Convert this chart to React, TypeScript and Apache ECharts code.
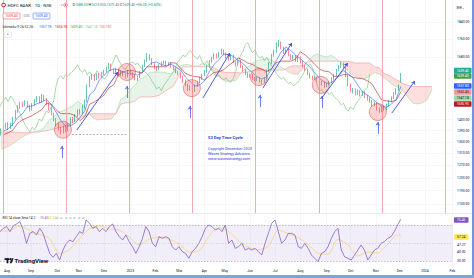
import React, { useEffect, useRef } from "react";
import * as echarts from "echarts";

// ---------------- DATA ----------------
// x unit = trading-bar index (0 = 1 Aug 2022)
const MONTH_BARS = [0, 20, 42, 60, 81, 103, 124, 144, 165, 182, 203, 224, 245, 267, 287, 308, 328, 349, 372];
const MONTH_LABELS = ["Aug", "Sep", "Oct", "Nov", "Dec", "2023", "Feb", "Mar", "Apr", "May", "Jun", "Jul", "Aug", "Sep", "Oct", "Nov", "Dec", "2024", "Feb"];

const PRICE_TICKS = [1840, 1760, 1680, 1430, 1390, 1350, 1310, 1270, 1230, 1190, 1150];
const PRICE_RANGE = [1123.3, 1947.7];
const RSI_TICKS = [47.27, 40, 30];
const RSI_RANGE = [25.6, 82.2];

const CANDLE_START_BAR = -5;
const CANDLE_STEP = 2;
// [open, close, low, high]
const CANDLES = [
  [1380,1392,1372,1398],[1392,1402,1386,1408],[1402,1412,1396,1418],
  [1412,1400,1392,1420],[1400,1410,1396,1418],[1410,1435,1406,1440],[1435,1462,1430,1466],[1462,1478,1455,1484],
  [1478,1490,1470,1497],[1490,1484,1476,1498],[1484,1496,1480,1503],[1496,1480,1474,1500],[1480,1468,1460,1486],
  [1468,1488,1464,1492],[1488,1502,1482,1508],[1502,1515,1496,1520],[1515,1498,1492,1519],[1498,1520,1494,1528],
  [1520,1508,1500,1524],[1508,1490,1484,1512],[1490,1470,1464,1494],[1470,1452,1446,1476],[1452,1430,1424,1456],
  [1430,1412,1405,1436],[1412,1398,1390,1418],[1398,1385,1376,1404],[1385,1402,1380,1408],[1402,1392,1384,1410],
  [1392,1410,1388,1416],[1410,1432,1406,1438],[1432,1424,1416,1440],[1424,1445,1420,1450],[1445,1462,1440,1468],
  [1462,1455,1448,1470],[1455,1478,1450,1484],[1478,1500,1472,1506],[1500,1560,1496,1566],[1560,1592,1555,1600],
  [1592,1602,1585,1610],[1602,1588,1580,1608],[1588,1606,1584,1612],[1606,1598,1590,1612],[1598,1612,1594,1618],
  [1612,1620,1605,1626],[1620,1632,1615,1640],[1632,1648,1628,1655],[1648,1625,1620,1652],[1625,1615,1608,1630],
  [1615,1628,1610,1634],[1628,1604,1598,1632],[1604,1618,1600,1624],[1618,1605,1598,1622],[1605,1598,1590,1610],
  [1598,1622,1594,1626],[1622,1610,1604,1628],[1610,1600,1594,1616],[1600,1588,1582,1604],[1588,1596,1580,1600],
  [1596,1618,1592,1622],[1618,1642,1614,1648],[1642,1665,1638,1670],[1665,1690,1660,1698],[1690,1672,1666,1694],
  [1672,1650,1645,1676],[1650,1635,1628,1654],[1635,1628,1620,1640],[1628,1645,1624,1650],[1645,1655,1640,1660],
  [1655,1660,1648,1666],[1660,1648,1642,1664],[1648,1655,1644,1660],[1655,1640,1635,1660],[1640,1630,1624,1645],
  [1630,1618,1612,1634],[1618,1610,1604,1622],[1610,1598,1590,1615],[1598,1580,1572,1602],[1580,1565,1558,1586],
  [1565,1548,1540,1570],[1548,1556,1542,1562],[1556,1540,1532,1560],[1540,1562,1536,1566],[1562,1575,1556,1580],
  [1575,1590,1570,1596],[1590,1605,1585,1610],[1605,1618,1600,1624],[1618,1640,1614,1646],[1640,1662,1636,1668],
  [1662,1675,1656,1682],[1675,1690,1670,1698],[1690,1682,1674,1696],[1682,1698,1678,1704],[1698,1710,1692,1718],
  [1710,1695,1688,1714],[1695,1680,1674,1700],[1680,1672,1665,1686],[1672,1688,1668,1694],[1688,1660,1655,1690],
  [1660,1648,1640,1664],[1648,1665,1644,1670],[1665,1640,1634,1668],[1640,1625,1618,1645],[1625,1610,1604,1630],
  [1610,1598,1592,1615],[1598,1605,1594,1610],[1605,1590,1584,1608],[1590,1585,1578,1596],[1585,1592,1580,1598],
  [1592,1580,1574,1596],[1580,1575,1568,1585],[1575,1590,1572,1594],[1590,1620,1586,1626],[1620,1655,1616,1660],
  [1655,1688,1650,1694],[1688,1705,1682,1712],[1705,1735,1700,1745],[1735,1745,1725,1757],[1745,1720,1714,1750],
  [1720,1700,1694,1726],[1700,1712,1696,1718],[1712,1690,1684,1716],[1690,1675,1668,1694],[1675,1685,1670,1690],
  [1685,1665,1660,1690],[1665,1680,1660,1686],[1680,1660,1654,1684],[1660,1642,1636,1664],[1642,1628,1622,1646],
  [1628,1610,1604,1632],[1610,1598,1592,1615],[1598,1588,1582,1602],[1588,1595,1584,1600],[1595,1580,1574,1598],
  [1580,1570,1564,1584],[1570,1575,1562,1580],[1575,1560,1552,1578],[1560,1568,1555,1572],[1568,1575,1562,1580],
  [1575,1590,1570,1595],[1590,1605,1585,1610],[1605,1625,1600,1630],[1625,1640,1620,1646],[1640,1652,1634,1660],
  [1652,1635,1630,1656],[1635,1600,1595,1638],[1600,1565,1558,1604],[1565,1540,1534,1570],[1540,1545,1530,1552],
  [1545,1528,1522,1550],[1528,1540,1524,1546],[1540,1525,1518,1544],[1525,1535,1520,1540],[1535,1518,1512,1538],
  [1518,1510,1502,1524],[1510,1500,1494,1515],[1500,1485,1478,1504],[1485,1492,1480,1498],[1492,1470,1464,1496],
  [1470,1462,1455,1476],[1462,1478,1458,1482],[1478,1468,1462,1484],[1468,1485,1464,1490],[1485,1500,1480,1505],
  [1500,1512,1496,1518],[1512,1530,1508,1535],[1530,1545,1525,1550],[1545,1553.4,1540,1565],[1588,1609.4,1573.45,1613],
];

const ICHI_START_BAR = -3;
const ICHI_STEP = 4;
const CONVERSION = [1388,
  1396,1413,1438,1452,1479,1481,1490,1496,1506,1487,
  1458,1426,1406,1407,1417,1438,1463,1524,1541,1583,
  1603,1622,1630,1626,1616,1611,1609,1604,1614,1639,
  1656,1659,1648,1643,1650,1638,1625,1596,1577,1559,
  1564,1580,1619,1649,1670,1694,1691,1684,1667,1654,
  1631,1614,1597,1588,1597,1631,1666,1704,1725,1709,
  1689,1674,1656,1638,1614,1590,1576,1568,1581,1601,
  1623,1609,1593,1563,1535,1524,1509,1494,1480,1476,
  1488,1507,1557.8];
const BASE_LINE = [1375,
  1382,1392,1417,1429,1437,1445,1456,1467,1492,1487,
  1467,1452,1452,1452,1444,1426,1441,1488,1497,1509,
  1523,1552,1564,1605,1618,1623,1623,1617,1614,1639,
  1639,1639,1639,1639,1656,1655,1633,1612,1603,1598,
  1596,1583,1600,1615,1618,1627,1644,1659,1677,1668,
  1655,1649,1636,1629,1619,1631,1657,1663,1663,1663,
  1672,1704,1690,1671,1650,1629,1621,1618,1599,1599,
  1606,1606,1595,1591,1589,1581,1567,1534,1504,1501,
  1498,1503,1536.95];

const SPAN_START_BAR = -5;
const SPAN_STEP = 4;
const SPAN_A = [1325,1330,1338,1350,1362,1372,1380,1386,
  1389,1402,1427,1440,1458,1463,1473,1482,1499,1487,
  1463,1439,1429,1430,1431,1432,1452,1506,1519,1546,
  1563,1587,1597,1616,1617,1617,1616,1610,1614,1639,
  1647,1649,1643,1641,1653,1646,1629,1604,1590,1578,
  1580,1581,1610,1632,1644,1661,1668,1672,1672,1661,
  1643,1632,1617,1609,1608,1631,1662,1684,1694,1686,
  1681,1689,1673,1655,1632,1610,1599,1593,1590,1600,
  1615,1608,1594,1577,1562,1553,1538,1514,1492,1489,
  1493,1505,1547];
const SPAN_B = [1385,1385,1385,1385,1383,1382,1383,1384,
  1385,1388,1392,1396,1400,1404,1410,1420,1430,1440,
  1448,1452,1452,1452,1452,1452,1452,1488,1493,1494,
  1501,1516,1516,1516,1518,1522,1536,1548,1559,1597,
  1639,1639,1639,1639,1639,1639,1639,1628,1619,1615,
  1615,1615,1613,1615,1618,1625,1625,1625,1625,1625,
  1625,1625,1637,1643,1643,1643,1657,1663,1663,1663,
  1663,1663,1663,1663,1663,1660,1655,1655,1655,1655,
  1639,1634,1610,1604,1591,1581,1569,1562,1558,1558,
  1558,1558,1557.8];
const LAG_SHIFT = 26;

const RSI_START_BAR = -5.84;
const RSI_STEP = 2.7673;
const RSI = [62.6,66.3,68.2,62.6,68.9,71.1,73.7,64.4,49.6,60.7,
  62.6,58.9,66.3,60.7,49.6,38.5,34.1,38.5,31.1,42.2,
  49.6,53.3,51.5,57,62.6,60.7,75.6,71.9,66.3,68.2,
  62.6,66.3,62.6,68.2,71.1,62.6,57,53.3,58.9,51.5,
  45.9,38.5,45.9,55.2,68.2,62.6,49.6,45.9,57,55.2,
  57,55.2,45.9,42.2,45.9,40.4,38.5,33,40.4,44,
  49.6,57,66.3,70,68.2,64.4,66.3,62.6,70,
  49.6,53.3,44.1,45.9,49.6,42.2,44.1,42.2,44.1,40.4,
  36.7,49.6,60.7,71.9,75.6,62.6,49.6,53.3,60.7,60.7,
  58.9,45.9,44.1,49.6,44.1,36.7,33,29.3,38.5,40.4,
  45.9,55.2,62.6,66.3,42.2,34.8,33,31.1,36.7,42.2,
  47.8,42.2,31.1,36.7,42.2,44.1,49.6,51.5,55.2,57,
  62.6,70,76.46];
// RSI-based MA sampled every 3 RSI readings (last one at the last reading)
const RSI_MA_EVERY = 3;
const RSI_MA = [63,64,68.9,63.9,59.6,54.8,38.4,42.9,54.8,65.6,
  68.9,65.6,64.3,56.7,48.1,54.1,56.7,54.1,49.2,40,
  41.1,57.4,67,62.6,52.6,45.2,42.6,46.3,64.1,60.4,
  55.9,48.5,38.5,37.4,54.1,47.8,35.6,40,39.3,48.5,
  59.3,57.24];

// 53-day cycle marker bars
const CYCLE_BARS = [-3.5, 49.3, 102.1, 154.9, 207.7, 260.5, 313.3, 366.1];
// cycle-low circles [bar, price]
const CIRCLES = [[46.7, 1393], [100.2, 1617], [154.4, 1551], [210.4, 1596], [262.1, 1564], [309.7, 1458]];
// up arrows [bar, tailPrice, headPrice]
const UP_ARROWS = [[45.9, 1295, 1336], [100.2, 1512, 1560], [152.8, 1436, 1481], [211.2, 1477, 1524], [262.9, 1473, 1520], [309.7, 1378, 1421]];
// trend arrows [bar1, price1, bar2, price2]
const TREND_ARROWS = [[58.4, 1392, 92.7, 1617], [163.6, 1512, 186.1, 1698], [213.7, 1551, 237.9, 1743], [262.9, 1512, 284.6, 1655], [321.4, 1454, 340.6, 1580]];
const SUPPORT_LINE = [54.3, 101, 1377.6];

const LAST = { o: "1588.00", h: "1613.00", l: "1573.45", c: "1609.40", chg: "+56.00 (+3.60%)" };
const ICHI_LEGEND = ["1557.78", "1536.95", "1609.40", "1547.18", "1557.80"];
const PRICE_BADGES = [
  { text: "1609.40", bg: "#22ab94", fg: "#ffffff" },
  { text: "1609.40", bg: "#43a047", fg: "#ffffff" },
  { text: "1557.80", bg: "#2962ff", fg: "#ffffff" },
  { text: "1552.45", bg: "#ef9a9a", fg: "#131722" },
  { text: "1547.18", bg: "#a5d6a7", fg: "#131722" },
  { text: "1536.95", bg: "#b71c1c", fg: "#ffffff" },
];
const RSI_BADGES = [
  { text: "76.46", bg: "#7e57c2", fg: "#ffffff" },
  { text: "57.24", bg: "#fbe45b", fg: "#131722" },
];

// ---------------- LAYOUT / STYLE ----------------
const W = 474;
const H = 278;
const PLOT_W = 453;
const MAIN_H = 213;
const RSI_TOP = 214;
const RSI_H = 51;
const PX_PER_BAR = 1.1973;
const X0_PX = 7;
const X_MIN = -X0_PX / PX_PER_BAR;
const X_MAX = X_MIN + PLOT_W / PX_PER_BAR;
const PRICE_BADGE_Y = [70.5, 76, 86, 92, 98, 104];
const RSI_BADGE_Y = [220, 237];
const FONT = 'Roboto, "Liberation Sans", Arial, sans-serif';
const TXT = "#131722";
const UP = "#089981";
const DOWN = "#f23645";
const CLOUD_GREEN = "rgba(67,160,71,0.12)";
const CLOUD_RED = "rgba(244,67,54,0.17)";

const L = Math.log;

function buildOption() {
  const candleData = CANDLES.map((c, i) => [CANDLE_START_BAR + i * CANDLE_STEP, L(c[0]), L(c[1]), L(c[2]), L(c[3])]);
  const lagData = CANDLES.map((c, i) => [CANDLE_START_BAR + i * CANDLE_STEP - LAG_SHIFT, L(c[1])]);
  const ichi = (arr: number[]) => arr.map((v, i) => [ICHI_START_BAR + i * ICHI_STEP, L(v)]);
  const sx = (i: number) => SPAN_START_BAR + i * SPAN_STEP;
  const spanA = SPAN_A.map((v, i) => [sx(i), L(v)]);
  const spanB = SPAN_B.map((v, i) => [sx(i), L(v)]);
  const cloudSegs: number[][] = [];
  for (let i = 0; i < SPAN_A.length - 1; i++) {
    cloudSegs.push([sx(i), L(SPAN_A[i]), L(SPAN_B[i]), sx(i + 1), L(SPAN_A[i + 1]), L(SPAN_B[i + 1])]);
  }
  const rsiData = RSI.map((v, i) => [RSI_START_BAR + i * RSI_STEP, v]);
  const maData = RSI_MA.map((v, k) => {
    const idx = Math.min(k * RSI_MA_EVERY, RSI.length - 1);
    return [RSI_START_BAR + idx * RSI_STEP, v];
  });

  const lineS = (name: string, data: any[], color: string, width: number, extra: any = {}) => ({
    name, type: "line", data, xAxisIndex: 0, yAxisIndex: 0, showSymbol: false, symbol: "none",
    lineStyle: { color, width }, silent: true, z: 4, ...extra,
  });

  const xAxisBase = (gi: number) => ({
    type: "value", gridIndex: gi, min: X_MIN, max: X_MAX,
    axisLine: { show: false },
    axisTick: { show: false, customValues: MONTH_BARS },
    splitLine: { show: true, lineStyle: { color: "#f0f3fa", width: 0.7 } },
    axisLabel: gi === 1
      ? {
          customValues: MONTH_BARS,
          formatter: (v: number) => MONTH_LABELS[MONTH_BARS.indexOf(v)] ?? "",
          fontSize: 3.5, color: TXT, margin: 4.2, fontFamily: FONT,
        }
      : { show: false },
  });

  const renderCloud = (params: any, api: any) => {
    const x1 = api.value(0), a1 = api.value(1), b1 = api.value(2);
    const x2 = api.value(3), a2 = api.value(4), b2 = api.value(5);
    const P = (x: number, y: number) => api.coord([x, y]);
    const d1 = a1 - b1;
    const d2 = a2 - b2;
    const children: any[] = [];
    if (d1 * d2 >= 0) {
      children.push({ type: "polygon", shape: { points: [P(x1, a1), P(x2, a2), P(x2, b2), P(x1, b1)] }, style: { fill: d1 + d2 >= 0 ? CLOUD_GREEN : CLOUD_RED } });
    } else {
      const tt = d1 / (d1 - d2);
      const xc = x1 + (x2 - x1) * tt;
      const yc = a1 + (a2 - a1) * tt;
      children.push({ type: "polygon", shape: { points: [P(x1, a1), P(xc, yc), P(x1, b1)] }, style: { fill: d1 > 0 ? CLOUD_GREEN : CLOUD_RED } });
      children.push({ type: "polygon", shape: { points: [P(xc, yc), P(x2, a2), P(x2, b2)] }, style: { fill: d2 > 0 ? CLOUD_GREEN : CLOUD_RED } });
    }
    return { type: "group", children };
  };

  return {
    animation: false,
    backgroundColor: "#ffffff",
    grid: [
      { left: 0, top: 0, width: PLOT_W, height: MAIN_H, outerBoundsMode: "none" },
      { left: 0, top: RSI_TOP, width: PLOT_W, height: RSI_H, outerBoundsMode: "none" },
    ],
    xAxis: [xAxisBase(0), xAxisBase(1)],
    yAxis: [
      {
        type: "value", gridIndex: 0, position: "right", min: L(PRICE_RANGE[0]), max: L(PRICE_RANGE[1]),
        axisLine: { show: false },
        axisTick: { show: false, customValues: PRICE_TICKS.map(L) },
        splitLine: { show: true, lineStyle: { color: "#f0f3fa", width: 0.7 } },
        axisLabel: {
          customValues: PRICE_TICKS.map(L),
          formatter: (v: number) => Math.exp(v).toFixed(2),
          fontSize: 3.4, color: TXT, margin: 4, fontFamily: FONT,
        },
      },
      {
        type: "value", gridIndex: 1, position: "right", min: RSI_RANGE[0], max: RSI_RANGE[1],
        axisLine: { show: false },
        axisTick: { show: false, customValues: RSI_TICKS },
        splitLine: { show: false },
        axisLabel: {
          customValues: RSI_TICKS,
          formatter: (v: number) => v.toFixed(2),
          fontSize: 3.4, color: TXT, margin: 4, fontFamily: FONT,
        },
      },
    ],
    series: [
      {
        name: "cloud", type: "custom", xAxisIndex: 0, yAxisIndex: 0, silent: true, z: 1, clip: true,
        data: cloudSegs, encode: { x: [0, 3], y: [1, 2, 4, 5] }, renderItem: renderCloud,
      },
      lineS("spanA", spanA, "#a5d6a7", 0.6, { z: 2 }),
      lineS("spanB", spanB, "#ef9a9a", 0.6, { z: 2 }),
      {
        name: "price", type: "candlestick", xAxisIndex: 0, yAxisIndex: 0, data: candleData,
        encode: { x: 0, y: [1, 2, 3, 4] }, barWidth: 1.3, silent: true, z: 3,
        itemStyle: { color: UP, color0: DOWN, borderColor: UP, borderColor0: DOWN, borderWidth: 0.6 },
        markLine: {
          silent: true, symbol: ["none", "none"], label: { show: false },
          lineStyle: { color: "#f3a0a0", width: 0.9, type: "solid", opacity: 1 },
          emphasis: { disabled: true },
          data: CYCLE_BARS.map((b) => ({ xAxis: b })),
        },
      },
      lineS("lagging", lagData, "#66bb6a", 0.55, { z: 4 }),
      lineS("base", ichi(BASE_LINE), "#b71c1c", 0.6),
      lineS("conversion", ichi(CONVERSION), "#2962ff", 0.6),
      {
        name: "cycleLows", type: "scatter", xAxisIndex: 0, yAxisIndex: 0, silent: true, z: 6,
        data: CIRCLES.map((c) => [c[0], L(c[1])]), symbolSize: 17,
        itemStyle: { color: "rgba(236,96,92,0.35)", borderColor: "rgba(220,60,56,0.75)", borderWidth: 0.8 },
      },
      {
        name: "upArrows", type: "lines", coordinateSystem: "cartesian2d", xAxisIndex: 0, yAxisIndex: 0, silent: true, z: 7,
        symbol: ["none", "arrow"], symbolSize: 3.5,
        lineStyle: { color: "#5a6ff0", width: 0.9, opacity: 1, curveness: 0 },
        data: UP_ARROWS.map((a) => ({ coords: [[a[0], L(a[1])], [a[0], L(a[2])]] })),
      },
      {
        name: "trendArrows", type: "lines", coordinateSystem: "cartesian2d", xAxisIndex: 0, yAxisIndex: 0, silent: true, z: 7,
        symbol: ["none", "arrow"], symbolSize: 3.5,
        lineStyle: { color: "#3b4bd6", width: 0.9, opacity: 1, curveness: 0 },
        data: TREND_ARROWS.map((a) => ({ coords: [[a[0], L(a[1])], [a[2], L(a[3])]] })),
      },
      {
        name: "support", type: "lines", coordinateSystem: "cartesian2d", xAxisIndex: 0, yAxisIndex: 0, silent: true, z: 7,
        symbol: ["none", "none"],
        lineStyle: { color: "#9598a1", width: 0.7, opacity: 1, type: [2, 1.5] },
        data: [{ coords: [[SUPPORT_LINE[0], L(SUPPORT_LINE[2])], [SUPPORT_LINE[1], L(SUPPORT_LINE[2])]] }],
      },
      {
        name: "rsi", type: "line", xAxisIndex: 1, yAxisIndex: 1, data: rsiData, showSymbol: false, symbol: "none",
        lineStyle: { color: "#7e57c2", width: 0.75 }, silent: true, z: 4,
        markArea: { silent: true, itemStyle: { color: "rgba(126,87,194,0.1)" }, data: [[{ yAxis: 30 }, { yAxis: 70 }]] },
        markLine: {
          silent: true, symbol: ["none", "none"], label: { show: false },
          lineStyle: { color: "#9598a1", width: 0.6, type: [1.5, 1.5] },
          data: [{ yAxis: 70 }, { yAxis: 50, lineStyle: { color: "rgba(149,152,161,0.45)", width: 0.6, type: [1.5, 1.5] } }, { yAxis: 30 }],
        },
      },
      {
        name: "rsiMA", type: "line", xAxisIndex: 1, yAxisIndex: 1, data: maData, showSymbol: false, symbol: "none",
        smooth: 0.3, lineStyle: { color: "#f2d479", width: 0.8 }, silent: true, z: 3,
      },
    ],
  };
}

function t(x: number, y: number, text: string, style: any = {}) {
  return {
    type: "text", x, y, z: 100, silent: true,
    style: { text, fontFamily: FONT, fontSize: 3.5, fill: TXT, align: "left", verticalAlign: "middle", ...style },
  };
}

function badge(x: number, y: number, w: number, h: number, text: string, bg: string, fg: string) {
  return {
    type: "group", z: 110, silent: true,
    children: [
      { type: "rect", shape: { x, y: y - h / 2, width: w, height: h, r: 0.8 }, style: { fill: bg }, z: 110 },
      { type: "text", x: x + w / 2, y, z: 111, style: { text, fontFamily: FONT, fontSize: 3.3, fill: fg, align: "center", verticalAlign: "middle" } },
    ],
  };
}

function buildGraphics() {
  const g: any[] = [];
  g.push({ type: "line", shape: { x1: 0, y1: 213.5, x2: 472, y2: 213.5 }, style: { stroke: "#e0e3eb", lineWidth: 0.7 }, z: 90, silent: true });

  // header row 1
  g.push({ type: "circle", shape: { cx: 3.6, cy: 5, r: 2.3 }, style: { fill: "#c62828" }, z: 100, silent: true });
  g.push({ type: "rect", shape: { x: 2.4, y: 3.8, width: 2.4, height: 2.4 }, style: { fill: "#ffffff" }, z: 101, silent: true });
  g.push(t(7.5, 5, "HDFC BANK · 1D · NSE", { fontSize: 4.4 }));
  g.push(t(60.5, 5, "▾", { fontSize: 3.2, fill: "#787b86" }));
  g.push({ type: "circle", shape: { cx: 65.5, cy: 5, r: 1.9 }, style: { fill: "#ffffff", stroke: "#f23645", lineWidth: 0.5 }, z: 100, silent: true });
  g.push({ type: "circle", shape: { cx: 65.5, cy: 5, r: 0.8 }, style: { fill: "#f23645" }, z: 101, silent: true });
  g.push(t(72.5, 5, `{k|O}{v|${LAST.o}} {k|H}{v|${LAST.h}} {k|L}{v|${LAST.l}} {k|C}{v|${LAST.c}} {v|${LAST.chg}}`, {
    fontSize: 3.5,
    rich: {
      k: { fontFamily: FONT, fontSize: 3.5, fill: TXT, color: TXT },
      v: { fontFamily: FONT, fontSize: 3.5, fill: "#089981", color: "#089981" },
    },
  }));

  // header row 2 (sell / buy)
  g.push({ type: "rect", shape: { x: 3, y: 13, width: 17, height: 6, r: 1 }, style: { fill: "#ffffff", stroke: "#f23645", lineWidth: 0.5 }, z: 100, silent: true });
  g.push(t(11.5, 16, "1609.40", { fill: "#f23645", align: "center", fontSize: 3.4 }));
  g.push(t(26.5, 16, "0.00", { fill: "#787b86", align: "center", fontSize: 3.2 }));
  g.push({ type: "rect", shape: { x: 33, y: 13, width: 17, height: 6, r: 1 }, style: { fill: "#ffffff", stroke: "#2962ff", lineWidth: 0.5 }, z: 100, silent: true });
  g.push(t(41.5, 16, "1609.40", { fill: "#2962ff", align: "center", fontSize: 3.4 }));

  // header row 3 (Ichimoku)
  g.push(t(2.5, 27, "Ichimoku 9 26 52 26", { fontSize: 3.4, fill: "#131722" }));
  const ichiColors = ["#2962ff", "#b71c1c", "#43a047", "#81c784", "#e57373"];
  const ichiX = [39, 55, 70, 85, 99];
  ICHI_LEGEND.forEach((v, i) => g.push(t(ichiX[i], 27, v, { fontSize: 3.4, fill: ichiColors[i] })));
  g.push({ type: "rect", shape: { x: 4, y: 32, width: 7.5, height: 5.5, r: 1 }, style: { fill: "#ffffff", stroke: "#d1d4dc", lineWidth: 0.5 }, z: 100, silent: true });
  g.push(t(7.75, 35.3, "^", { fontSize: 3.6, align: "center", fill: "#131722" }));

  g.push(t(456.5, 7.5, "INR ⌄", { fontSize: 3.2, fill: TXT }));

  PRICE_BADGES.forEach((b, i) => g.push(badge(454, PRICE_BADGE_Y[i], 17.5, 5.4, b.text, b.bg, b.fg)));
  RSI_BADGES.forEach((b, i) => g.push(badge(454, RSI_BADGE_Y[i], 14.5, 5.4, b.text, b.bg, b.fg)));

  const blue = "#2c3ccf";
  g.push(t(208, 137, "53 Day Time Cycle", { fontSize: 4.2, fontWeight: "bold", fill: blue }));
  g.push(t(208, 148.5, "Copyright December 2023", { fontSize: 3.8, fill: blue }));
  g.push(t(208, 153.5, "Waves Strategy Advisors", { fontSize: 3.8, fill: blue }));
  g.push(t(208, 158.5, "www.wavesstrategy.com", { fontSize: 3.8, fill: blue }));

  g.push(t(2.5, 217.5, "RSI 14 close Sma 14 2", { fontSize: 3.3, fill: TXT }));
  g.push(t(40, 217.5, "76.46", { fontSize: 3.3, fill: "#7e57c2" }));
  g.push(t(48, 217.5, "57.24", { fontSize: 3.3, fill: "#e0bd3c" }));
  for (let i = 0; i < 7; i++) g.push(t(56 + i * 4.3, 217.5, "∅", { fontSize: 3.3, fill: "#787b86" }));

  g.push({ type: "rect", shape: { x: 4.5, y: 258.2, width: 4.6, height: 1.7 }, style: { fill: "#131722" }, z: 100, silent: true });
  g.push({ type: "rect", shape: { x: 6.6, y: 258.2, width: 1.8, height: 5 }, style: { fill: "#131722" }, z: 100, silent: true });
  g.push({ type: "circle", shape: { cx: 10.2, cy: 259.1, r: 0.95 }, style: { fill: "#131722" }, z: 100, silent: true });
  g.push({ type: "polygon", shape: { points: [[11.6, 258.2], [13.6, 258.2], [11.6, 263.2], [9.7, 263.2]] }, style: { fill: "#131722" }, z: 100, silent: true });
  g.push(t(14.5, 260.8, "TradingView", { fontSize: 6, fontWeight: "bold", fill: "#131722" }));

  g.push({ type: "rect", shape: { x: 472, y: 0, width: 2, height: H }, style: { fill: "#6f96d8" }, z: 200, silent: true });
  g.push({ type: "rect", shape: { x: 0, y: 275, width: W, height: 3 }, style: { fill: "#7ea2dc" }, z: 200, silent: true });
  return g;
}

export default function App() {
  const ref = useRef<HTMLDivElement>(null);
  useEffect(() => {
    const el = ref.current;
    if (!el) return;
    const chart = echarts.init(el, undefined, { renderer: "svg" });
    const opt: any = buildOption();
    opt.graphic = buildGraphics();
    chart.setOption(opt);
    return () => chart.dispose();
  }, []);
  return <div ref={ref} style={{ position: "fixed", left: 0, top: 0, width: W, height: H, background: "#fff" }} />;
}
